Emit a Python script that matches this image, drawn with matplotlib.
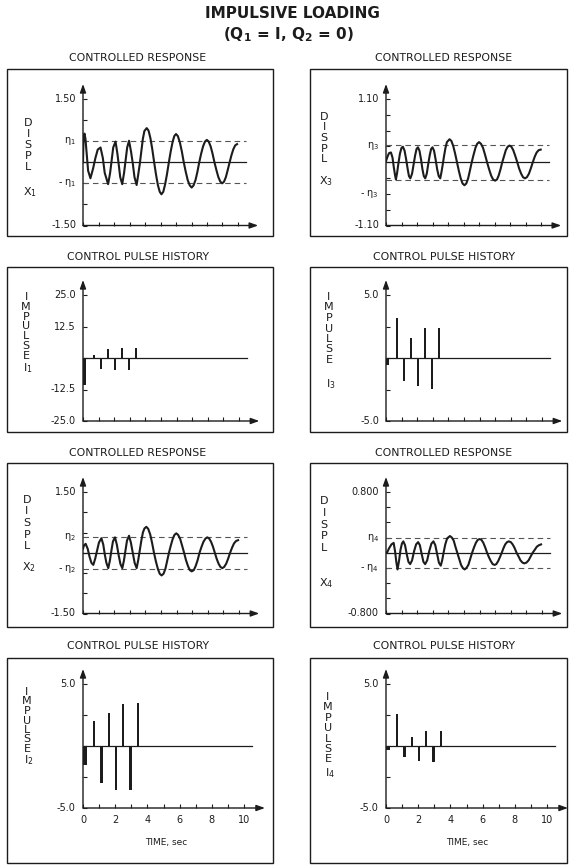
import matplotlib
matplotlib.use("Agg")
import matplotlib.pyplot as plt
from matplotlib.patches import Rectangle

W, H = 569, 866
INK = "#1c1c1c"

# displacement traces, (time [s], displacement)
x1_trace = [
    (0.00, 0.00), (0.04, 0.62), (0.10, 0.68), (0.16, 0.55), (0.25, 0.15), (0.33, -0.20),
    (0.48, -0.38), (0.65, -0.15), (0.80, 0.10), (0.95, 0.30), (1.13, 0.35), (1.28, 0.10),
    (1.40, -0.25), (1.62, -0.52), (1.75, -0.25), (1.85, 0.05), (1.95, 0.35), (2.10, 0.49),
    (2.22, 0.20), (2.32, -0.10), (2.40, -0.35), (2.53, -0.52), (2.65, -0.25), (2.75, 0.05),
    (2.85, 0.35), (2.97, 0.51), (3.10, 0.25), (3.22, -0.05), (3.32, -0.35), (3.46, -0.54),
    (3.56, -0.30), (3.66, -0.05), (3.76, 0.25), (3.86, 0.55), (3.96, 0.74), (4.11, 0.81),
    (4.23, 0.75), (4.35, 0.57), (4.47, 0.31), (4.59, 0.00), (4.71, -0.29), (4.83, -0.54),
    (4.95, -0.70), (5.06, -0.76), (5.18, -0.70), (5.30, -0.52), (5.42, -0.28), (5.54, 0.00),
    (5.66, 0.26), (5.78, 0.48), (5.89, 0.62), (6.00, 0.67), (6.12, 0.62), (6.25, 0.47),
    (6.38, 0.25), (6.50, 0.00), (6.63, -0.23), (6.76, -0.43), (6.89, -0.55), (7.01, -0.60),
    (7.13, -0.55), (7.26, -0.42), (7.38, -0.23), (7.50, 0.00), (7.62, 0.20), (7.75, 0.38),
    (7.87, 0.49), (7.99, 0.53), (8.11, 0.49), (8.24, 0.37), (8.36, 0.20), (8.48, 0.00),
    (8.61, -0.19), (8.73, -0.35), (8.86, -0.46), (8.98, -0.50), (9.10, -0.46), (9.22, -0.35),
    (9.34, -0.18), (9.46, 0.00), (9.58, 0.17), (9.70, 0.31), (9.82, 0.40), (9.94, 0.43),
]

x3_trace = [
    (0.00, 0.02), (0.10, 0.10), (0.20, 0.16), (0.32, 0.17), (0.42, 0.08), (0.50, -0.08),
    (0.58, -0.22), (0.64, -0.30), (0.72, -0.18), (0.80, -0.02), (0.90, 0.15), (1.00, 0.25),
    (1.09, 0.27), (1.20, 0.20), (1.30, 0.05), (1.40, -0.12), (1.48, -0.24), (1.57, -0.28),
    (1.68, -0.20), (1.78, -0.04), (1.88, 0.12), (1.97, 0.23), (2.06, 0.26), (2.16, 0.20),
    (2.26, 0.05), (2.35, -0.12), (2.44, -0.24), (2.53, -0.28), (2.63, -0.20), (2.72, -0.04),
    (2.82, 0.12), (2.91, 0.23), (3.00, 0.26), (3.10, 0.20), (3.20, 0.05), (3.30, -0.12),
    (3.40, -0.24), (3.50, -0.28), (3.58, -0.17), (3.66, -0.04), (3.74, 0.10), (3.83, 0.24),
    (3.93, 0.35), (4.10, 0.40), (4.22, 0.37), (4.34, 0.28), (4.46, 0.15), (4.58, 0.00),
    (4.70, -0.15), (4.82, -0.28), (4.94, -0.37), (5.06, -0.40), (5.18, -0.37), (5.30, -0.28),
    (5.41, -0.15), (5.53, 0.00), (5.65, 0.13), (5.77, 0.25), (5.88, 0.32), (6.00, 0.35),
    (6.13, 0.32), (6.26, 0.25), (6.39, 0.13), (6.52, 0.00), (6.65, -0.12), (6.78, -0.23),
    (6.91, -0.30), (7.04, -0.32), (7.16, -0.30), (7.27, -0.23), (7.39, -0.12), (7.50, 0.00),
    (7.62, 0.11), (7.73, 0.21), (7.85, 0.27), (7.96, 0.29), (8.09, 0.27), (8.21, 0.21),
    (8.34, 0.11), (8.47, 0.00), (8.59, -0.11), (8.72, -0.20), (8.84, -0.26), (8.97, -0.28),
    (9.09, -0.26), (9.22, -0.20), (9.34, -0.11), (9.47, 0.00), (9.60, 0.10), (9.72, 0.17),
    (9.85, 0.21), (9.98, 0.22),
]

x2_trace = [
    (0.00, 0.10), (0.06, 0.18), (0.17, 0.22), (0.30, 0.10), (0.42, -0.10), (0.54, -0.25),
    (0.66, -0.30), (0.78, -0.15), (0.90, 0.05), (1.02, 0.25), (1.18, 0.36), (1.30, 0.20),
    (1.40, -0.05), (1.50, -0.25), (1.62, -0.38), (1.72, -0.20), (1.82, 0.05), (1.92, 0.28),
    (2.05, 0.38), (2.17, 0.20), (2.28, -0.05), (2.40, -0.28), (2.52, -0.38), (2.62, -0.20),
    (2.72, 0.05), (2.82, 0.30), (2.95, 0.42), (3.07, 0.25), (3.19, 0.00), (3.31, -0.25),
    (3.44, -0.38), (3.54, -0.18), (3.64, 0.06), (3.74, 0.30), (3.84, 0.50), (3.94, 0.60),
    (4.06, 0.64), (4.18, 0.59), (4.31, 0.45), (4.43, 0.24), (4.55, 0.00), (4.67, -0.21),
    (4.80, -0.40), (4.92, -0.52), (5.04, -0.56), (5.16, -0.52), (5.28, -0.40), (5.39, -0.21),
    (5.51, 0.00), (5.63, 0.18), (5.75, 0.34), (5.86, 0.44), (5.98, 0.48), (6.10, 0.44),
    (6.23, 0.34), (6.35, 0.18), (6.48, 0.00), (6.60, -0.18), (6.73, -0.33), (6.85, -0.43),
    (6.97, -0.46), (7.10, -0.43), (7.22, -0.33), (7.35, -0.18), (7.47, 0.00), (7.60, 0.15),
    (7.72, 0.27), (7.85, 0.35), (7.97, 0.38), (8.09, 0.35), (8.21, 0.27), (8.33, 0.15),
    (8.45, 0.00), (8.57, -0.15), (8.69, -0.27), (8.81, -0.35), (8.93, -0.38), (9.05, -0.35),
    (9.18, -0.27), (9.30, -0.15), (9.43, 0.00), (9.56, 0.13), (9.68, 0.23), (9.81, 0.29),
    (9.94, 0.31),
]

x4_trace = [
    (0.00, 0.00), (0.06, 0.00), (0.20, 0.06), (0.35, 0.11), (0.49, 0.13), (0.58, 0.02),
    (0.66, -0.12), (0.74, -0.22), (0.84, -0.10), (0.93, 0.04), (1.02, 0.12), (1.11, 0.15),
    (1.22, 0.10), (1.33, -0.02), (1.44, -0.12), (1.55, -0.15), (1.67, -0.10), (1.80, 0.02),
    (1.93, 0.11), (2.06, 0.14), (2.17, 0.10), (2.28, -0.01), (2.40, -0.12), (2.51, -0.15),
    (2.64, -0.10), (2.77, 0.02), (2.91, 0.12), (3.04, 0.15), (3.16, 0.10), (3.27, -0.01),
    (3.39, -0.13), (3.51, -0.17), (3.60, -0.10), (3.70, 0.01), (3.80, 0.11), (3.92, 0.19),
    (4.10, 0.22), (4.22, 0.20), (4.34, 0.16), (4.45, 0.08), (4.57, 0.00), (4.69, -0.08),
    (4.81, -0.16), (4.92, -0.20), (5.04, -0.22), (5.16, -0.20), (5.28, -0.16), (5.40, -0.08),
    (5.52, 0.00), (5.64, 0.07), (5.76, 0.13), (5.88, 0.17), (6.00, 0.18), (6.12, 0.17),
    (6.24, 0.13), (6.36, 0.07), (6.48, 0.00), (6.60, -0.06), (6.72, -0.11), (6.84, -0.15),
    (6.96, -0.16), (7.07, -0.15), (7.19, -0.11), (7.30, -0.06), (7.42, 0.00), (7.53, 0.06),
    (7.64, 0.11), (7.76, 0.14), (7.87, 0.15), (8.00, 0.14), (8.12, 0.11), (8.25, 0.06),
    (8.37, 0.00), (8.50, -0.05), (8.62, -0.10), (8.75, -0.13), (8.87, -0.14), (9.00, -0.13),
    (9.14, -0.10), (9.27, -0.05), (9.40, 0.00), (9.54, 0.04), (9.67, 0.08), (9.81, 0.10),
    (9.94, 0.11),
]

# dead-band thresholds
eta1, eta2, eta3, eta4 = 0.50, 0.40, 0.30, 0.20

# control impulses
pulse_t = [0.10, 0.70, 1.15, 1.60, 2.05, 2.50, 2.95, 3.40]
imp1 = [-10.8, 1.2, -4.2, 3.7, -4.9, 4.0, -4.9, 4.0]
imp2 = [-1.55, 2.05, -3.0, 2.7, -3.55, 3.35, -3.55, 3.5]
imp3 = [-0.55, 3.2, -1.8, 1.6, -2.2, 2.35, -2.45, 2.35]
imp4 = [-0.3, 2.55, -0.85, 0.7, -1.2, 1.25, -1.3, 1.25]

time_labels = ["0", "", "2", "", "4", "", "6", "", "8", "", "10"]

plt.rcParams["font.family"] = ["DejaVu Sans"]
plt.rcParams["mathtext.fontset"] = "dejavusans"
fig = plt.figure(figsize=(W / 100, H / 100), dpi=100)


def fx(px):
    return px / W


def fy(py):
    return 1 - py / H


def txt(x, y, s, size=7.5, **kw):
    kw.setdefault("ha", "center")
    kw.setdefault("va", "center")
    fig.text(fx(x), fy(y), s, fontsize=size, color=INK, **kw)


def box(x0, x1, y0, y1):
    fig.add_artist(Rectangle((fx(x0), fy(y1)), (x1 - x0) / W, (y1 - y0) / H,
                             transform=fig.transFigure, fill=False, lw=1.0, ec=INK))


def stack(x, y0, step, word, sub, ysub):
    for k, ch in enumerate(word):
        txt(x, y0 + step * k, ch, size=8)
    txt(x + 2, ysub, sub, size=8)


def eta_lab(n, neg=False):
    return ("- " if neg else "") + "\u03b7$_{%d}$" % n


def panel(left, top_px, bot_px, vmin, vmax, sec_px, yticks, ylabels, xlabels=None):
    pad = 15
    xmax = 11.3
    ax = fig.add_axes([fx(left), fy(bot_px), xmax * sec_px / W, (bot_px - top_px + pad) / H])
    ytop = vmax + (vmax - vmin) * pad / (bot_px - top_px)
    ax.set_xlim(0, xmax)
    ax.set_ylim(vmin, ytop)
    ax.patch.set_alpha(0)
    for s in ax.spines.values():
        s.set_visible(False)
    ax.set_xticks(range(11))
    ax.set_yticks(yticks)
    ax.set_yticklabels([])
    ax.tick_params(direction="in", length=3, width=0.8, color=INK,
                   left=True, bottom=True, labelsize=7, labelcolor=INK, pad=5)
    if xlabels:
        ax.set_xticklabels(xlabels)
    else:
        ax.set_xticklabels([])
    arrow = dict(arrowstyle="-|>,head_length=0.5,head_width=0.18", lw=1.0,
                 color=INK, shrinkA=0, shrinkB=0)
    ax.annotate("", xy=(0, ytop), xytext=(0, vmin), arrowprops=arrow, annotation_clip=False)
    ax.annotate("", xy=(xmax, vmin), xytext=(0, vmin), arrowprops=arrow, annotation_clip=False)
    for val, lab in ylabels:
        ax.text(-0.45, val, lab, ha="right", va="center", fontsize=7, color=INK, clip_on=False)
    return ax


def response(ax, trace, eta):
    ax.plot([0, 10.5], [0, 0], color=INK, lw=0.9)
    for e in (eta, -eta):
        ax.plot([0, 10.5], [e, e], color="#555555", lw=0.8, dashes=(5, 3.5))
    t, v = zip(*trace)
    ax.plot(t, v, color=INK, lw=1.5, solid_joinstyle="round")


def pulses(ax, vals):
    ax.plot([0, 10.5], [0, 0], color=INK, lw=0.9)
    widths = [0.24] + [0.15] * (len(vals) - 1)
    ax.bar(pulse_t, vals, width=widths, color=INK, linewidth=0)


# headings
txt(292, 14, "IMPULSIVE LOADING", size=11, fontweight="bold")
txt(288, 35, r"(Q$_{\mathbf{1}}$ = I, Q$_{\mathbf{2}}$ = 0)", size=11, fontweight="bold")

LX, RX = 83, 386
rows = [(69, 236), (267, 432), (463, 627), (658, 863)]
for y0, y1 in rows:
    box(7, 273, y0, y1)
    box(310, 567, y0, y1)

titles = [(58, "CONTROLLED RESPONSE"), (257, "CONTROL PULSE HISTORY"),
          (453, "CONTROLLED RESPONSE"), (646, "CONTROL PULSE HISTORY")]
for y, s in titles:
    txt(138, y, s, size=7.8)
    txt(444, y, s, size=7.8)

half = [-1.5, -1.0, -0.5, 0, 0.5, 1.0, 1.5]
quarter5 = [-5, -2.5, 0, 2.5, 5]

# row 1
ax = panel(LX, 99, 225.5, -1.5, 1.5, 15.5, half,
           [(1.5, "1.50"), (eta1, eta_lab(1)), (-eta1, eta_lab(1, True)), (-1.5, "-1.50")])
response(ax, x1_trace, eta1)
stack(28, 123, 11, "DISPL", "X$_1$", 192)

ax = panel(RX, 99, 225.5, -1.1, 1.1, 15.5, [k * 0.275 for k in range(-4, 5)],
           [(1.1, "1.10"), (0.275, eta_lab(3)), (-0.55, eta_lab(3, True)), (-1.1, "-1.10")])
response(ax, x3_trace, eta3)
stack(324, 117, 10.5, "DISPL", "X$_3$", 181)

# row 2
ax = panel(LX, 295, 421, -25, 25, 15.6, [-25, -12.5, 0, 12.5, 25],
           [(25, "25.0"), (12.5, "12.5"), (-12.5, "-12.5"), (-25, "-25.0")])
pulses(ax, imp1)
stack(26, 297, 9.8, "IMPULSE", "I$_1$", 368)

ax = panel(RX, 295, 421, -5, 5, 15.6, quarter5, [(5, "5.0"), (-5, "-5.0")])
pulses(ax, imp3)
stack(329, 297, 10.5, "IMPULSE", "I$_3$", 384)

# row 3
ax = panel(LX, 492, 613.5, -1.5, 1.5, 15.6, half,
           [(1.5, "1.50"), (eta2, eta_lab(2)), (-eta2, eta_lab(2, True)), (-1.5, "-1.50")])
response(ax, x2_trace, eta2)
stack(27, 500, 11.5, "DISPL", "X$_2$", 567)

ax = panel(RX, 492, 613.5, -0.8, 0.8, 15.6, [k * 0.2 for k in range(-4, 5)],
           [(0.8, "0.800"), (eta4, eta_lab(4)), (-eta4, eta_lab(4, True)), (-0.8, "-0.800")])
response(ax, x4_trace, eta4)
stack(324, 501, 11.8, "DISPL", "X$_4$", 583)

# row 4
ax = panel(LX, 684, 808, -5, 5, 16.1, quarter5, [(5, "5.0"), (-5, "-5.0")], time_labels)
pulses(ax, imp2)
stack(27, 692, 9.5, "IMPULSE", "I$_2$", 760)
txt(166, 843, "TIME, sec", size=6.5)

ax = panel(RX, 684, 808, -5, 5, 16.1, quarter5, [(5, "5.0"), (-5, "-5.0")], time_labels)
pulses(ax, imp4)
stack(328, 697, 10.4, "IMPULSE", "I$_4$", 773)
txt(467, 843, "TIME, sec", size=6.5)

fig.savefig("out.png", dpi=100)
